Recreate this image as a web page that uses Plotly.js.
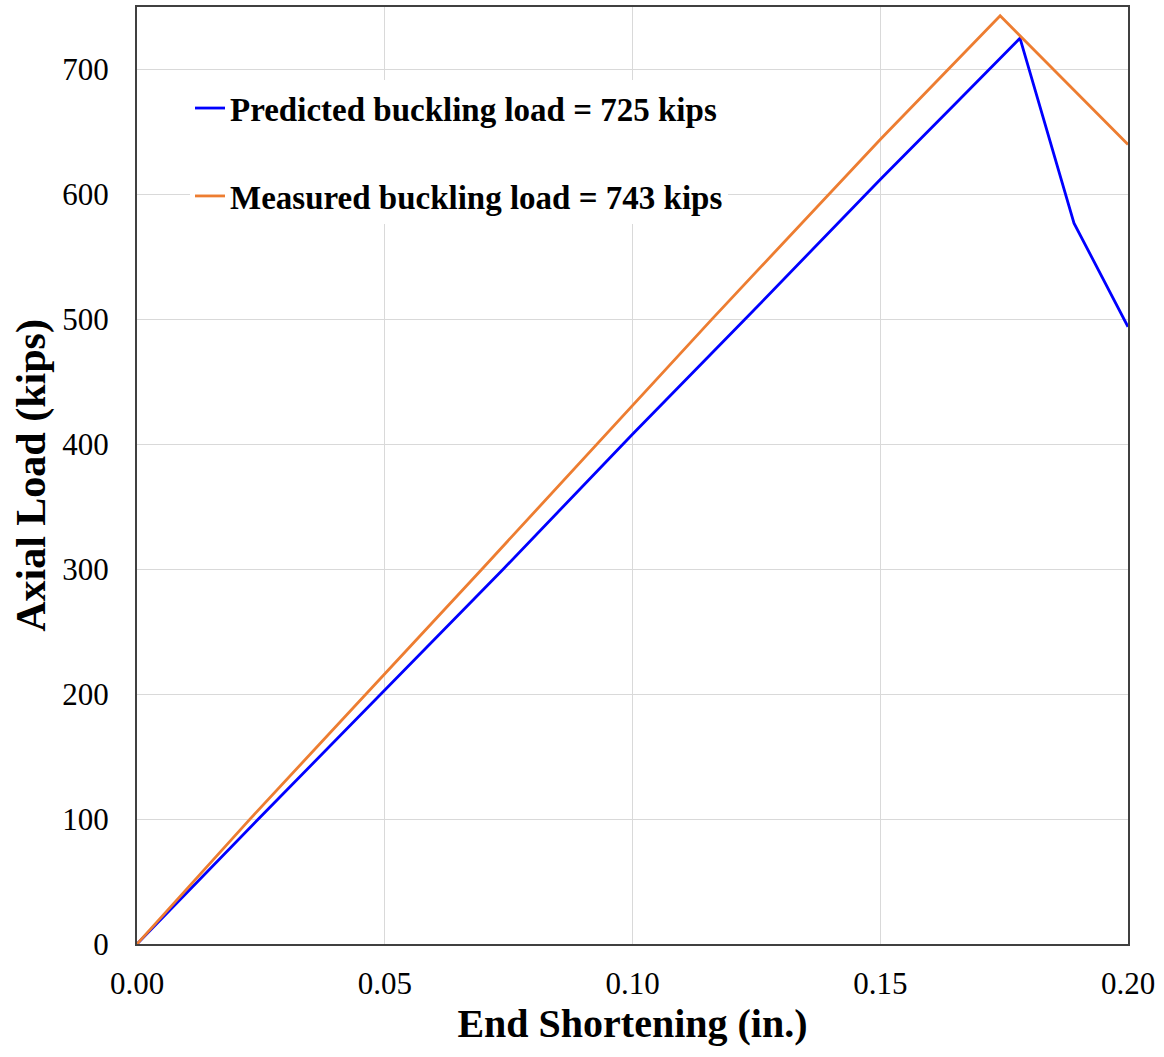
<!DOCTYPE html>
<html>
<head>
<meta charset="utf-8">
<script src="https://cdn.plot.ly/plotly-3.0.1.min.js"></script>
<style>html,body{margin:0;padding:0;background:#fff;}#chart{width:1164px;height:1057px;}</style>
</head>
<body>
<div id="chart"></div>
<script>
// Predicted (blue) curve
const predictedX = [0, 0.0245, 0.0739, 0.100, 0.1227, 0.150, 0.1650, 0.1782, 0.1891, 0.200];
const predictedY = [0, 100, 300, 408, 500, 612, 672, 725, 577, 494];
// Measured (orange) curve
const measuredX = [0, 0.0228, 0.0696, 0.1160, 0.150, 0.1742, 0.200];
const measuredY = [0, 100, 300, 500, 644, 743, 640];

const xTicks = [0, 0.05, 0.10, 0.15, 0.20];
const xTickText = ['0.00', '0.05', '0.10', '0.15', '0.20'];
const yTicks = [0, 100, 200, 300, 400, 500, 600, 700];

const serif = 'Liberation Serif, Times New Roman, serif';

const traces = [
  {x: predictedX, y: predictedY, type: 'scatter', mode: 'lines',
   name: '<b>Predicted buckling load = 725 kips</b>', legendgroup: 'a',
   line: {color: '#0000ff', width: 2.8}},
  {x: measuredX, y: measuredY, type: 'scatter', mode: 'lines',
   name: '<b>Measured buckling load = 743 kips</b>', legendgroup: 'b',
   line: {color: '#ed7d31', width: 2.8}}
];

const layout = {
  width: 1164, height: 1057,
  margin: {l: 137, r: 36, t: 7, b: 113},
  paper_bgcolor: '#fff', plot_bgcolor: '#fff',
  font: {family: serif, color: '#000'},
  xaxis: {
    range: [0, 0.2], tickvals: xTicks, ticktext: xTickText,
    showgrid: true, gridcolor: '#d9d9d9', gridwidth: 1,
    showline: true, linecolor: '#404040', linewidth: 2, mirror: true,
    zeroline: false, ticks: '', ticklabelstandoff: 11,
    tickfont: {family: serif, size: 31, color: '#000'},
    title: {text: '<b>End Shortening (in.)</b>', font: {family: serif, size: 40, color: '#000'}, standoff: 6}
  },
  yaxis: {
    range: [0, 750], tickvals: yTicks,
    showgrid: true, gridcolor: '#d9d9d9', gridwidth: 1,
    showline: true, linecolor: '#404040', linewidth: 2, mirror: true,
    zeroline: false, ticks: '', ticklabelstandoff: 20,
    tickfont: {family: serif, size: 31, color: '#000'},
    title: {text: '<b>Axial Load (kips)</b>', font: {family: serif, size: 42, color: '#000'}, standoff: 4}
  },
  shapes: [{
    type: 'rect', xref: 'paper', yref: 'paper', layer: 'below',
    x0: 0.0283, x1: 0.6176, y0: 0.748, y1: 0.938,
    fillcolor: '#ffffff', line: {width: 0}
  }],
  showlegend: true,
  legend: {
    x: 0.0535, y: 0.922, xanchor: 'left', yanchor: 'top',
    bgcolor: '#fff', borderwidth: 0,
    font: {family: serif, size: 33, color: '#000'},
    traceorder: 'grouped', tracegroupgap: 42
  }
};

Plotly.newPlot('chart', traces, layout, {displayModeBar: false, staticPlot: true});
</script>
</body>
</html>
